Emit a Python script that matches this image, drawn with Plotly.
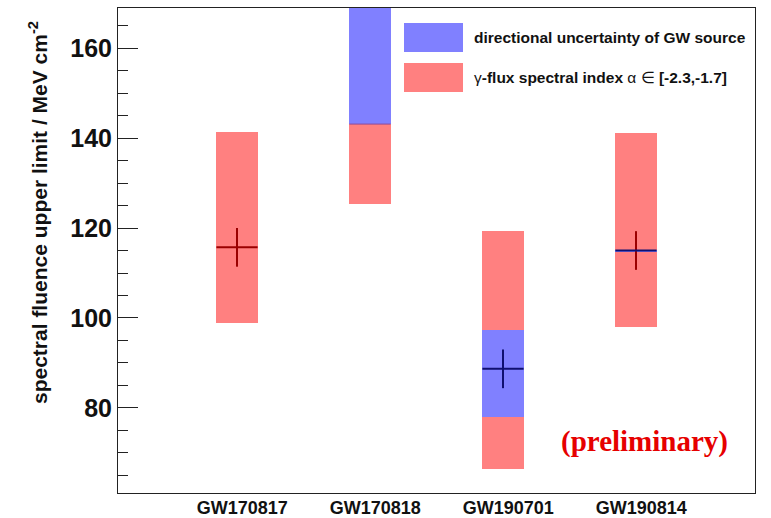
import plotly.graph_objects as go

# Events and their fluence upper limits (MeV cm^-2)
events = ["GW170817", "GW170818", "GW190701", "GW190814"]

# Range from the gamma-flux spectral index alpha in [-2.3, -1.7]
index_lo = [98.8, 125.3, 66.4, 97.9]
index_hi = [141.4, 190.0, 119.3, 141.1]

# Range from the directional uncertainty of the GW source
dir_lo = [None, 143.1, 78.1, 114.8]
dir_hi = [None, 190.0, 97.3, 115.2]

# Central value and its vertical error
central = [115.7, None, 88.7, 115.0]
err_up = [4.3, 0, 4.3, 4.3]
err_down = [4.3, 0, 4.3, 4.3]
vert_color = ["#9a0000", "#9a0000", "#101070", "#9a0000"]
horiz_color = ["#9a0000", "#9a0000", "#101070", "#101070"]

y_ticks = [80, 100, 120, 140, 160]
y_range = [61.1, 168.9]

RED = "#ff8080"
BLUE = "#8080ff"
BAR_W = 0.31
xs = list(range(len(events)))

fig = go.Figure()

fig.add_trace(go.Bar(
    x=xs, base=index_lo,
    y=[h - l for h, l in zip(index_hi, index_lo)],
    width=BAR_W, marker=dict(color=RED, line=dict(width=0)),
    showlegend=False, hoverinfo="skip",
))

bx, bb, bh = [], [], []
for i, (lo, hi) in enumerate(zip(dir_lo, dir_hi)):
    if lo is not None:
        bx.append(i)
        bb.append(lo)
        bh.append(hi - lo)
fig.add_trace(go.Bar(
    x=bx, base=bb, y=bh,
    width=BAR_W, marker=dict(color=BLUE, line=dict(width=0)),
    showlegend=False, hoverinfo="skip",
))

# Thin edge where the directional band meets the spectral band
fig.add_trace(go.Scatter(
    x=[1 - BAR_W / 2, 1 + BAR_W / 2], y=[dir_lo[1], dir_lo[1]],
    mode="lines", line=dict(color="#8a4a9a", width=1),
    showlegend=False, hoverinfo="skip",
))

# Crosses: horizontal bar over the band width, vertical error bar
for i, c in enumerate(central):
    if c is None:
        continue
    fig.add_trace(go.Scatter(
        x=[i], y=[c], mode="markers",
        marker=dict(size=1, color="rgba(0,0,0,0)"),
        error_x=dict(type="constant", value=BAR_W / 2, width=0,
                     color=horiz_color[i], thickness=2),
        error_y=dict(type="data", symmetric=False,
                     array=[err_up[i]], arrayminus=[err_down[i]],
                     width=0, color=vert_color[i], thickness=2),
        showlegend=False, hoverinfo="skip",
    ))

# Legend drawn as swatches and labels in the upper right
legend_items = [
    (BLUE, "<b>directional uncertainty of GW source</b>"),
    (RED, "γ<b>-flux spectral index</b> α ∈ <b>[-2.3,-1.7]</b>"),
]
PX_L, PX_T, PW, PH = 118, 8, 637, 485
def px(xp):
    return (xp - PX_L) / PW
def py(yp):
    return (PX_T + PH - yp) / PH

for k, (col, txt) in enumerate(legend_items):
    top = 23 + k * 40
    fig.add_shape(type="rect", xref="paper", yref="paper",
                  x0=px(404), x1=px(463), y0=py(top + 29), y1=py(top),
                  fillcolor=col, line=dict(width=0), layer="above")
    fig.add_annotation(xref="paper", yref="paper", x=px(472), y=py(top + 14.5),
                       xanchor="left", yanchor="middle", showarrow=False,
                       text=txt, font=dict(family="Liberation Sans", size=15.5, color="#111"))

fig.add_annotation(xref="paper", yref="paper", x=px(644), y=py(441.5),
                   xanchor="center", yanchor="middle", showarrow=False,
                   text="<b>(preliminary)</b>",
                   font=dict(family="Liberation Serif", size=29, color="#e60000"))

fig.add_annotation(xref="paper", yref="paper", x=0, xshift=-80, y=py(213),
                   xanchor="center", yanchor="middle", showarrow=False, textangle=-90,
                   text="<b>spectral fluence upper limit / MeV cm<sup>-2</sup></b>",
                   font=dict(family="Liberation Sans", size=21, color="#111"))

fig.update_layout(
    width=771, height=518,
    margin=dict(l=118, r=16, t=8, b=25),
    paper_bgcolor="white", plot_bgcolor="white",
    barmode="overlay", bargap=0,
    xaxis=dict(
        range=[-0.895, 3.895], automargin=False,
        tickvals=[i + 0.04 for i in xs], ticktext=events,
        ticks="", showgrid=False, zeroline=False, ticklabelstandoff=-2,
        showline=True, linecolor="#222", linewidth=1, mirror=True,
        tickfont=dict(family="Liberation Sans", size=18, color="#111", weight="bold"),
    ),
    yaxis=dict(
        range=y_range, tickvals=y_ticks, automargin=False,
        ticks="inside", ticklen=20, tickcolor="#222", tickwidth=1,
        minor=dict(dtick=5, tick0=0, ticks="inside", ticklen=10, tickcolor="#222", showgrid=False),
        showgrid=False, zeroline=False,
        showline=True, linecolor="#222", linewidth=1, mirror=True,
        tickfont=dict(family="Liberation Sans", size=25, color="#111", weight="bold"),
    ),
)

fig.write_html("out.html")
